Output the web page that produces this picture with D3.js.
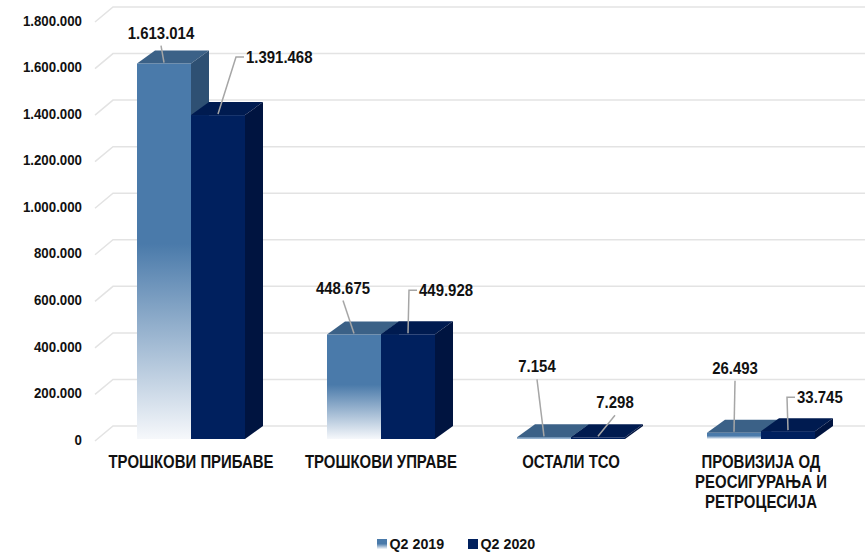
<!DOCTYPE html>
<html>
<head>
<meta charset="utf-8">
<script src="https://cdn.jsdelivr.net/npm/d3@7"></script>
<style>
  body { margin: 0; background: #fff; }
  svg { display: block; }
  text { font-family: "Liberation Sans", Arial, sans-serif; font-weight: bold; fill: #111; }
</style>
</head>
<body>
<div id="chart"></div>
<script>
const categories = [['ТРОШКОВИ ПРИБАВЕ'], ['ТРОШКОВИ УПРАВЕ'], ['ОСТАЛИ ТСО'], ['ПРОВИЗИЈА ОД', 'РЕОСИГУРАЊА И', 'РЕТРОЦЕСИЈА']]
const seriesNames = ['Q2 2019', 'Q2 2020']
const q2_2019 = [1613014, 448675, 7154, 26493]
const q2_2020 = [1391468, 449928, 7298, 33745]
const yTicks = [0, 200000, 400000, 600000, 800000, 1000000, 1200000, 1400000, 1600000, 1800000]

// where each data label sits relative to its bar (leader line start), and whether it has an elbow
const labelOffsets = [
    [[-3, -17, false], [-11, -33, false], [-7, -57, false], [1, -51, false]],
    [[18, -57, true], [1, -43, true], [17, -21, false], [-1, -33, true]]
]

function draw_chart() {
    const width = 865, height = 552
    const depth = {'x': 18, 'y': -13}
    const wall = {'x': 18, 'y': -15}

    const svg = d3.select('#chart').append('svg')
        .attr('width', width).attr('height', height)

    const fmt = d3.formatLocale({'decimal': ',', 'thousands': '.', 'grouping': [3], 'currency': ['', '']}).format(',d')

    // text squeezed horizontally, the original font is a narrow one
    function narrow(sel, tx, ty, sx) {
        return sel.attr('transform', `translate(${tx},${ty}) scale(${sx},1)`)
    }

    const y = d3.scaleLinear().domain([0, 1800000]).range([439, 20])
    const x = d3.scaleBand().domain(d3.range(categories.length)).range([96, 856])
    const xs = d3.scaleBand().domain(d3.range(seriesNames.length)).range([0, 108])
    const barX = (i, s) => x(i) + (x.bandwidth() - 108) / 2 + xs(s)

    const defs = svg.append('defs')
    const grad = defs.append('linearGradient').attr('id', 'g2019')
        .attr('x1', 0).attr('y1', 0).attr('x2', 0).attr('y2', 1)
    grad.append('stop').attr('offset', '0%').attr('stop-color', '#4a7aaa')
    grad.append('stop').attr('offset', '48%').attr('stop-color', '#4a7aaa')
    grad.append('stop').attr('offset', '100%').attr('stop-color', '#f6f8fb')

    const colors = [
        {'front': 'url(#g2019)', 'top': '#3b6187', 'side': '#2e5073'},
        {'front': '#00205e', 'top': '#001b50', 'side': '#001440'}
    ]

    // gridlines: floor diagonal + back wall line
    const grid = svg.append('g')
    yTicks.forEach(function (t) {
        const yy = y(t)
        grid.append('path')
            .attr('d', `M95,${yy + 2}L${95 + wall.x},${yy + 2 + wall.y}L${width},${yy + 2 + wall.y}`)
            .attr('fill', 'none').attr('stroke', '#e3e3e3').attr('stroke-width', 1.5)
    })

    svg.append('g').selectAll('text').data(yTicks).join('text')
        .each(function (d) { narrow(d3.select(this), 82, y(d) + 1, 0.95) })
        .attr('text-anchor', 'end').attr('dominant-baseline', 'central')
        .style('font-size', '14px')
        .text((d) => fmt(d))

    const series = [q2_2019, q2_2020]
    const bars = svg.append('g')
    categories.forEach(function (c, i) {
        series.forEach(function (vals, s) {
            const x0 = barX(i, s), x1 = x0 + xs.bandwidth()
            const yt = y(vals[i]), yb = y(0)
            const col = colors[s]
            bars.append('rect').attr('x', x0).attr('y', yt)
                .attr('width', x1 - x0).attr('height', Math.max(yb - yt, 0.5))
                .attr('fill', col.front)
            bars.append('path')
                .attr('d', `M${x0},${yt}L${x1},${yt}L${x1 + depth.x},${yt + depth.y}L${x0 + depth.x},${yt + depth.y}Z`)
                .attr('fill', col.top)
            bars.append('path')
                .attr('d', `M${x1},${yt}L${x1 + depth.x},${yt + depth.y}L${x1 + depth.x},${yb + depth.y}L${x1},${yb}Z`)
                .attr('fill', col.side)
        })
    })

    // data labels with leader lines
    const labels = svg.append('g')
    categories.forEach(function (c, i) {
        series.forEach(function (vals, s) {
            const ax = barX(i, s) + xs.bandwidth() / 2
            const ay = y(vals[i]) - 1
            const [dx, dy, elbow] = labelOffsets[s][i]
            const sx = ax + dx, sy = ay + dy
            if (elbow) {
                labels.append('path').attr('d', `M${ax},${ay}L${sx},${sy}L${sx + 8},${sy}`)
                    .attr('fill', 'none').attr('stroke', '#a6a6a6').attr('stroke-width', 1.5)
                narrow(labels.append('text'), sx + 10, sy + 6, 0.88)
                    .style('font-size', '17px').text(fmt(vals[i]))
            } else {
                labels.append('path').attr('d', `M${ax},${ay}L${sx},${sy}`)
                    .attr('fill', 'none').attr('stroke', '#a6a6a6').attr('stroke-width', 1.5)
                narrow(labels.append('text'), sx, sy - 7, 0.88)
                    .attr('text-anchor', 'middle')
                    .style('font-size', '17px').text(fmt(vals[i]))
            }
        })
    })

    // category labels
    const cats = svg.append('g').selectAll('text').data(categories).join('text')
        .each(function (d, i) { narrow(d3.select(this), x(i) + x.bandwidth() / 2, 0, 0.83) })
        .attr('text-anchor', 'middle')
        .style('font-size', '18px')
    cats.selectAll('tspan').data((d) => d).join('tspan')
        .attr('x', 0)
        .attr('y', (d, j) => 468 + j * 20)
        .text((d) => d)

    // legend
    const legendX = [377, 468]
    const legend = svg.append('g').selectAll('g').data(seriesNames).join('g')
        .attr('transform', (d, i) => `translate(${legendX[i]},539)`)
    legend.append('rect').attr('width', 10).attr('height', 10)
        .attr('fill', (d, i) => i === 0 ? 'url(#g2019)' : colors[1].front)
    narrow(legend.append('text'), 12.5, 9.5, 0.92)
        .style('font-size', '15.5px').text((d) => d)
}

draw_chart()
</script>
</body>
</html>
